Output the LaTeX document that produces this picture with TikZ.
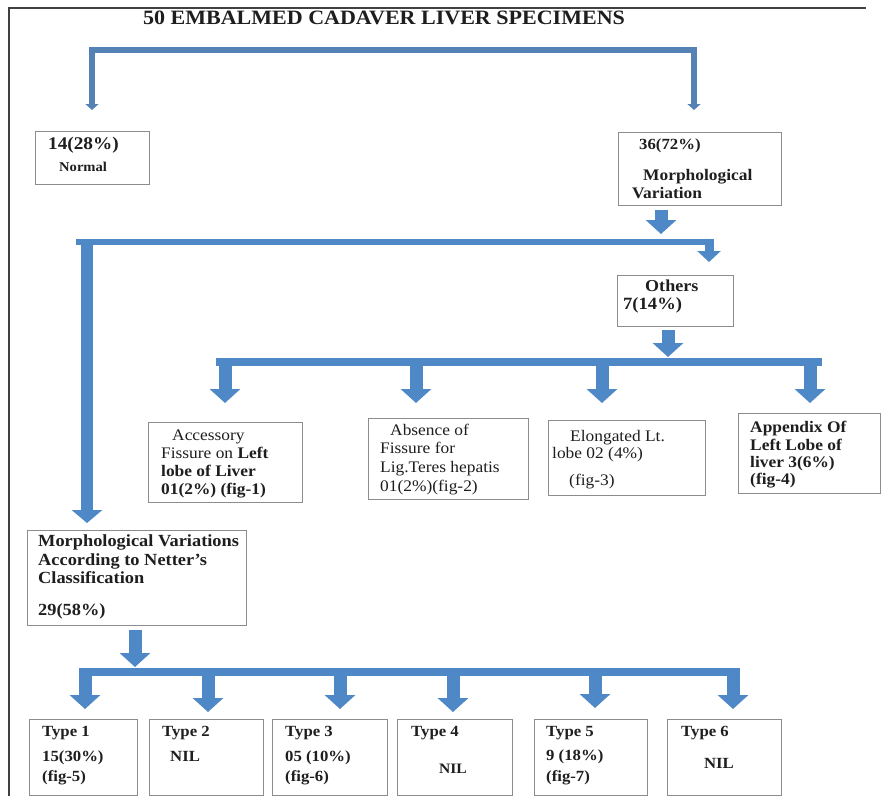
\documentclass[tikz,border=0pt]{standalone}
\usepackage{fontspec}
\setmainfont{Liberation Serif}[FakeStretch=1.08]
\usetikzlibrary{arrows.meta}
\definecolor{ablue}{HTML}{4F88C6}
\definecolor{dblue}{HTML}{5582B4}
\definecolor{bgray}{HTML}{8C8C8C}
\definecolor{tcol}{HTML}{1E1E1E}
\definecolor{fgray}{HTML}{404040}
\tikzset{
  box/.style={draw=bgray, line width=1.2pt, fill=white, inner sep=0pt, anchor=north west},
  tb/.style={anchor=mid west, inner sep=0pt, text=tcol, font=\bfseries\fontsize{#1}{#1}\selectfont},
  tr/.style={anchor=mid west, inner sep=0pt, text=tcol, font=\fontsize{#1}{#1}\selectfont},
  tbc/.style={anchor=mid, inner sep=0pt, text=tcol, font=\bfseries\fontsize{#1}{#1}\selectfont},
  bar/.style={draw=ablue, line width=6.5pt},
  blk/.style={draw=ablue, line width=13pt, -{Triangle[width=30pt,length=14pt]}},
  thinarrow/.style={draw=dblue, line width=5.5pt, {Triangle[width=13pt,length=6pt]}-{Triangle[width=13pt,length=6pt]}}
}
\begin{document}
\begin{tikzpicture}[x=1pt,y=-1pt]
\useasboundingbox (0,0) rectangle (882,796);
\fill[white] (0,0) rectangle (882,796);
% frame
\coordinate (frBL) at (9,796);
\coordinate (frTL) at (9,8);
\coordinate (frTR) at (866,8);
\draw[fgray, line width=1.5pt] (frBL) -- (frTL) -- (frTR);

% title
\node[tbc=20.4] (title) at (384,22) {50 EMBALMED CADAVER LIVER SPECIMENS};

% level 1 boxes
\node[box, minimum width=114pt, minimum height=53pt] (normal) at (35,131) {};
\node[tb=17.8] (normalA) at (48,147) {14(28\%)};
\node[tb=13.5] (normalB) at (59,169) {Normal};

\node[box, minimum width=163pt, minimum height=73pt] (mv) at (618,132) {};
\node[tb=15.5] (mvA) at (639,147) {36(72\%)};
\node[tb=16.1] (mvB) at (643,178) {Morphological};
\node[tb=16.1] (mvC) at (632,196) {Variation};

% top bracket
\coordinate (brL) at (92,110);
\coordinate (brR) at (694,110);
\draw[thinarrow] (brL) -- (92,50) -- (694,50) -- (brR);

% from mv to bar
\coordinate (mvOut) at (661,210);
\coordinate (mvIn) at (661,234);
\draw[blk] (mvOut) -- (mvIn);
\coordinate (b1L) at (76,242);
\coordinate (b1R) at (714,242);
\draw[bar] (b1L) -- (b1R);

% others
\node[box, minimum width=116pt, minimum height=51pt] (oth) at (617,275) {};
\node[tb=16.7] (othA) at (645,289) {Others};
\node[tb=17.2] (othB) at (623,307) {7(14\%)};
\coordinate (othIn) at (709,262);
\draw[blk, line width=9pt, -{Triangle[width=23pt,length=11pt]}] (709,239) -- (othIn);

% long left arrow
\coordinate (longIn) at (87,523);
\draw[blk, line width=12pt, -{Triangle[width=30pt,length=13pt]}] (87,238.75) -- (longIn);

% others to bar
\draw[blk] (668,330) -- (668,357);
\coordinate (b2L) at (216,362);
\coordinate (b2R) at (822,362);
\draw[bar, line width=8pt] (b2L) -- (b2R);
\foreach \xx in {225,416,602,810}{
  \draw[blk] (\xx,358) -- (\xx,403);
}

% second level boxes
\node[box, minimum width=154pt, minimum height=80pt] (acc) at (148,422) {};
\node[tr=16.1] (accA) at (172,438) {Accessory};
\node[tr=16.1] (accB) at (161,456) {Fissure on \textbf{Left}};
\node[tb=16.1] (accC) at (161,474) {lobe of Liver};
\node[tb=16.1] (accD) at (161,492) {01(2\%) (fig-1)};

\node[box, minimum width=160pt, minimum height=81pt] (abs) at (368,418) {};
\node[tr=16.1] (absA) at (390,433) {Absence of};
\node[tr=16.1] (absB) at (380,451) {Fissure for};
\node[tr=16.1] (absC) at (380,470) {Lig.Teres hepatis};
\node[tr=16.1] (absD) at (380,489) {01(2\%)(fig-2)};

\node[box, minimum width=157pt, minimum height=75pt] (elo) at (548,420) {};
\node[tr=16.1] (eloA) at (570,439) {Elongated Lt.};
\node[tr=16.1] (eloB) at (552,456) {lobe 02 (4\%)};
\node[tr=16.1] (eloC) at (569,483) {(fig-3)};

\node[box, minimum width=142pt, minimum height=80pt] (app) at (738,413) {};
\node[tb=16.1] (appA) at (750,430) {Appendix Of};
\node[tb=16.1] (appB) at (750,448) {Left Lobe of};
\node[tb=16.1] (appC) at (750,465) {liver 3(6\%)};
\node[tb=16.1] (appD) at (750,482) {(fig-4)};

% Netter box
\node[box, minimum width=219pt, minimum height=95pt] (net) at (27,530) {};
\node[tb=17] (netA) at (38,544) {Morphological Variations};
\node[tb=17] (netB) at (38,563) {According to Netter's};
\node[tb=17] (netC) at (38,581) {Classification};
\node[tb=17] (netD) at (38,613) {29(58\%)};

\draw[blk] (135,630) -- (135,667);
\coordinate (b3L) at (79,672);
\coordinate (b3R) at (740,672);
\draw[bar, line width=8pt] (b3L) -- (b3R);
\foreach \xx/\yy in {85/709,208/712,340/709,453/712,595/708,733/709}{
  \draw[blk] (\xx,668) -- (\xx,\yy);
}

% type boxes
\node[box, minimum width=108pt, minimum height=76pt] (t1) at (29,719) {};
\node[box, minimum width=114pt, minimum height=76pt] (t2) at (149,719) {};
\node[box, minimum width=115pt, minimum height=76pt] (t3) at (272,719) {};
\node[box, minimum width=115pt, minimum height=76pt] (t4) at (397,719) {};
\node[box, minimum width=113pt, minimum height=76pt] (t5) at (534,719) {};
\node[box, minimum width=114pt, minimum height=76pt] (t6) at (667,719) {};

\node[tb=15.5] (t1A) at (42,734) {Type 1};
\node[tb=15.5] (t1B) at (42,759) {15(30\%)};
\node[tb=15.5] (t1C) at (42,779) {(fig-5)};
\node[tb=15.5] (t2A) at (162,734) {Type 2};
\node[tb=15.5] (t2B) at (170,759) {NIL};
\node[tb=15.5] (t3A) at (285,734) {Type 3};
\node[tb=15.5] (t3B) at (285,759) {05 (10\%)};
\node[tb=15.5] (t3C) at (285,779) {(fig-6)};
\node[tb=15.5] (t4A) at (411,734) {Type 4};
\node[tbc=14.4] (t4B) at (453,771) {NIL};
\node[tb=15.5] (t5A) at (546,734) {Type 5};
\node[tb=15.5] (t5B) at (546,758) {9 (18\%)};
\node[tb=15.5] (t5C) at (546,779) {(fig-7)};
\node[tb=15.5] (t6A) at (681,734) {Type 6};
\node[tbc=15.5] (t6B) at (719,766) {NIL};
\end{tikzpicture}
\end{document}
